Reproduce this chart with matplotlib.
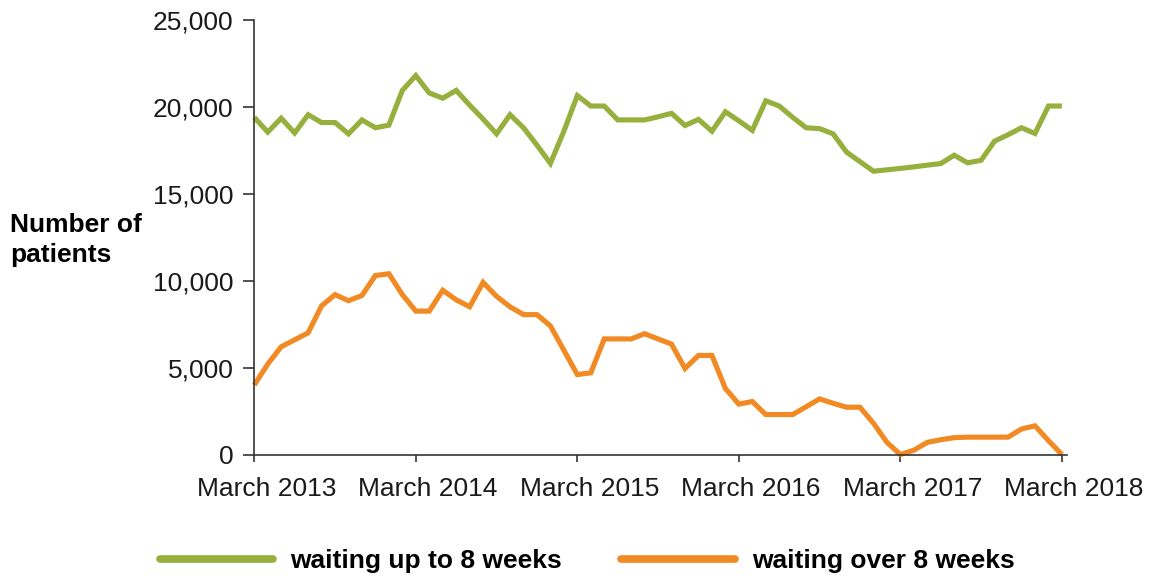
import matplotlib
matplotlib.use("Agg")
import matplotlib.pyplot as plt
import matplotlib.transforms as mtransforms
import numpy as np
from matplotlib.lines import Line2D

# monthly values, March 2013 .. March 2018 (thousands of patients)
up_to_8_weeks = [
    19.4, 18.55, 19.35, 18.5, 19.55, 19.1, 19.1, 18.45, 19.25, 18.8,
    18.95, 20.95, 21.8, 20.8, 20.5, 20.95, 20.1, 19.3, 18.45, 19.55,
    18.8, 17.8, 16.75, 18.6, 20.65, 20.05, 20.05, 19.25, 19.25, 19.25,
    19.43, 19.63, 18.93, 19.28, 18.6, 19.72, 19.2, 18.65, 20.35, 20.05,
    19.4, 18.8, 18.75, 18.45, 17.4, 16.85, 16.3, 16.38, 16.46, 16.55,
    16.65, 16.74, 17.22, 16.78, 16.93, 18.03, 18.4, 18.8, 18.47, 20.05,
    20.05,
]
over_8_weeks = [
    4.0, 5.2, 6.2, 6.6, 7.0, 8.55, 9.2, 8.85, 9.15, 10.3,
    10.4, 9.2, 8.25, 8.25, 9.45, 8.9, 8.5, 9.9, 9.1, 8.5,
    8.05, 8.05, 7.4, 6.0, 4.6, 4.7, 6.65, 6.65, 6.65, 6.95,
    6.65, 6.35, 4.95, 5.7, 5.7, 3.8, 2.9, 3.05, 2.3, 2.3,
    2.3, 2.75, 3.2, 2.95, 2.72, 2.72, 1.8, 0.7, 0.0, 0.25,
    0.7, 0.85, 0.97, 1.0, 1.0, 1.0, 1.0, 1.47, 1.65, 0.8,
    0.0,
]
year_labels = ["March 2013", "March 2014", "March 2015",
               "March 2016", "March 2017", "March 2018"]
y_ticks = [0, 5000, 10000, 15000, 20000, 25000]
y_labels = ["0", "5,000", "10,000", "15,000", "20,000", "25,000"]
series_names = ["waiting up to 8 weeks", "waiting over 8 weeks"]

GREEN = "#97B03D"
ORANGE = "#F28A24"
AXIS = "#333333"

plt.rcParams["font.family"] = ["Liberation Sans", "DejaVu Sans"]

fig = plt.figure(figsize=(11.49, 5.76), dpi=100)
ax = fig.add_axes([0.2213, 0.2109, 0.9283 - 0.2213, 0.9653 - 0.2109])

months = np.arange(len(up_to_8_weeks))
ax.plot(months, np.array(up_to_8_weeks) * 1000, color=GREEN, lw=3.7,
        solid_joinstyle="miter", solid_capstyle="butt", clip_on=False)
ax.plot(months, np.array(over_8_weeks) * 1000, color=ORANGE, lw=3.7,
        solid_joinstyle="miter", solid_capstyle="butt", clip_on=False)

ax.set_xlim(0, 60.35)
ax.set_ylim(0, 25000)
ax.set_xticks(np.arange(0, len(months), 12))
ax.set_xticklabels(year_labels)
ax.set_yticks(y_ticks)
ax.set_yticklabels(y_labels)

for s in ["top", "right"]:
    ax.spines[s].set_visible(False)
for s in ["left", "bottom"]:
    ax.spines[s].set_color(AXIS)
    ax.spines[s].set_linewidth(1.2)
ax.tick_params(axis="y", length=8, width=1.2, color=AXIS, pad=7,
               labelsize=19, labelcolor="#1a1a1a")
ax.tick_params(axis="x", length=5, width=1.2, color=AXIS, pad=11,
               labelsize=19, labelcolor="#1a1a1a")

# x labels in the source sit a little right of their ticks
shift = mtransforms.ScaledTranslation(12 / 100, 0, fig.dpi_scale_trans)
for lbl in ax.get_xticklabels():
    lbl.set_transform(lbl.get_transform() + shift)

fig.text(10 / 1149, 1 - 240 / 576, "Number of\npatients", ha="left",
         va="center", fontsize=19, fontweight="bold", linespacing=1.35)

handles = [Line2D([], [], color=GREEN, lw=5.5, solid_capstyle="round"),
           Line2D([], [], color=ORANGE, lw=5.5, solid_capstyle="round")]
fig.legend(handles, series_names, loc="center", ncol=2,
           bbox_to_anchor=(0.511, 0.026), frameon=False,
           prop={"size": 19, "weight": "bold"}, handlelength=4.3,
           handletextpad=0.65, columnspacing=2.25, borderaxespad=0)

fig.savefig("out.png", dpi=100)
